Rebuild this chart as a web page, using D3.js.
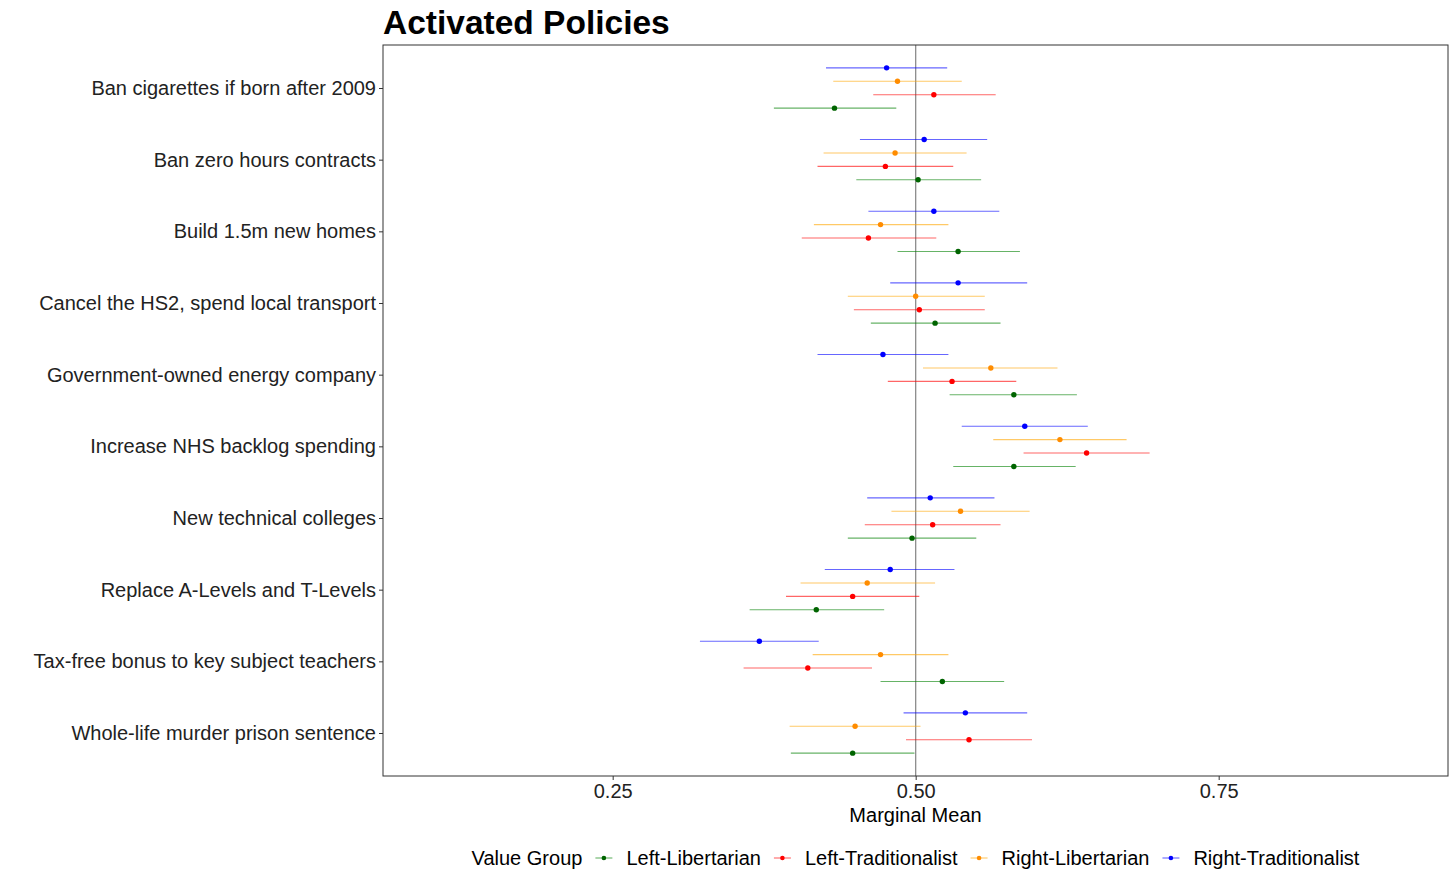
<!DOCTYPE html>
<html>
<head>
<meta charset="utf-8">
<script src="https://cdn.jsdelivr.net/npm/d3@7"></script>
<style>
  body { margin: 0; background: #fff; }
  text { font-family: "Liberation Sans", Arial, sans-serif; }
</style>
</head>
<body>
<div id="chart"></div>
<script>
// policy categories, top to bottom
const policies = [
  "Ban cigarettes if born after 2009",
  "Ban zero hours contracts",
  "Build 1.5m new homes",
  "Cancel the HS2, spend local transport",
  "Government-owned energy company",
  "Increase NHS backlog spending",
  "New technical colleges",
  "Replace A-Levels and T-Levels",
  "Tax-free bonus to key subject teachers",
  "Whole-life murder prison sentence"
];

const groups = ["Left-Libertarian", "Left-Traditionalist", "Right-Libertarian", "Right-Traditionalist"];
const lineColors = ["green", "red", "orange", "blue"];
const pointColors = ["darkgreen", "red", "darkorange", "blue"];

// Left-Libertarian
const llEst = [0.433, 0.502, 0.535, 0.516, 0.581, 0.581, 0.497, 0.418, 0.522, 0.448];
const llLo  = [0.383, 0.451, 0.485, 0.463, 0.528, 0.531, 0.444, 0.363, 0.471, 0.397];
const llHi  = [0.484, 0.554, 0.586, 0.570, 0.633, 0.632, 0.550, 0.474, 0.573, 0.499];
// Left-Traditionalist
const ltEst = [0.515, 0.475, 0.461, 0.503, 0.530, 0.641, 0.514, 0.448, 0.411, 0.544];
const ltLo  = [0.465, 0.419, 0.406, 0.449, 0.477, 0.589, 0.458, 0.393, 0.358, 0.492];
const ltHi  = [0.566, 0.531, 0.517, 0.557, 0.583, 0.693, 0.570, 0.503, 0.464, 0.596];
// Right-Libertarian
const rlEst = [0.485, 0.483, 0.471, 0.500, 0.562, 0.619, 0.537, 0.460, 0.471, 0.450];
const rlLo  = [0.432, 0.424, 0.416, 0.444, 0.506, 0.564, 0.480, 0.405, 0.415, 0.396];
const rlHi  = [0.538, 0.542, 0.527, 0.557, 0.617, 0.674, 0.594, 0.516, 0.527, 0.504];
// Right-Traditionalist
const rtEst = [0.476, 0.507, 0.515, 0.535, 0.473, 0.590, 0.512, 0.479, 0.371, 0.541];
const rtLo  = [0.426, 0.454, 0.461, 0.479, 0.419, 0.538, 0.460, 0.425, 0.322, 0.490];
const rtHi  = [0.526, 0.559, 0.569, 0.592, 0.527, 0.642, 0.565, 0.532, 0.420, 0.592];

const xTicks = [0.25, 0.50, 0.75];

const est = [llEst, ltEst, rlEst, rtEst];
const lo = [llLo, ltLo, rlLo, rtLo];
const hi = [llHi, ltHi, rlHi, rtHi];

// flatten into rows
const rows = [];
groups.forEach((g, gi) => {
  policies.forEach((p, pi) => {
    rows.push({ policy: p, group: g, gi: gi, est: est[gi][pi], lo: lo[gi][pi], hi: hi[gi][pi] });
  });
});

const width = 1456;
const height = 885;
const margin = { top: 45, right: 8, bottom: 109, left: 383 };
const fontSize = "20px";

const svg = d3.select("#chart")
  .append("svg")
  .attr("width", width)
  .attr("height", height);

const x = d3.scaleLinear()
  .domain([0.0605, 0.9392])
  .range([margin.left, width - margin.right]);

const y = d3.scalePoint()
  .domain(policies)
  .range([margin.top, height - margin.bottom])
  .padding(0.6);

const dodge = y.step() * 0.1875;
const yPos = d => y(d.policy) + (1.5 - d.gi) * dodge;

// reference line at 0.5
svg.append("line")
  .attr("x1", x(0.5)).attr("x2", x(0.5))
  .attr("y1", margin.top).attr("y2", height - margin.bottom)
  .attr("stroke", "#8c8c8c")
  .attr("stroke-width", 1.3);

// error bars
svg.append("g").selectAll("line")
  .data(rows)
  .enter().append("line")
  .attr("x1", d => x(d.lo))
  .attr("x2", d => x(d.hi))
  .attr("y1", yPos)
  .attr("y2", yPos)
  .attr("stroke", d => lineColors[d.gi])
  .attr("stroke-opacity", 0.6)
  .attr("stroke-width", 1.1);

// points
svg.append("g").selectAll("circle")
  .data(rows)
  .enter().append("circle")
  .attr("cx", d => x(d.est))
  .attr("cy", yPos)
  .attr("r", 2.7)
  .attr("fill", d => pointColors[d.gi]);

// panel border
svg.append("rect")
  .attr("x", margin.left)
  .attr("y", margin.top)
  .attr("width", width - margin.right - margin.left)
  .attr("height", height - margin.bottom - margin.top)
  .attr("fill", "none")
  .attr("stroke", "#333")
  .attr("stroke-width", 1);

// x axis
const xAxis = svg.append("g")
  .attr("transform", `translate(0,${height - margin.bottom})`)
  .call(d3.axisBottom(x).tickValues(xTicks).tickFormat(d3.format(".2f")).tickSize(4).tickPadding(4));
xAxis.select(".domain").remove();
xAxis.selectAll(".tick line").attr("stroke", "#333");
xAxis.selectAll(".tick text")
  .attr("fill", "#222")
  .style("font-size", fontSize)
  .style("font-family", "'Liberation Sans', Arial, sans-serif");

// y axis
const yAxis = svg.append("g")
  .attr("transform", `translate(${margin.left},0)`)
  .call(d3.axisLeft(y).tickSize(4).tickPadding(3));
yAxis.select(".domain").remove();
yAxis.selectAll(".tick line").attr("stroke", "#333");
yAxis.selectAll(".tick text")
  .attr("fill", "#222")
  .style("font-size", fontSize)
  .style("font-family", "'Liberation Sans', Arial, sans-serif");

// title
svg.append("text")
  .attr("x", margin.left)
  .attr("y", 34)
  .attr("font-size", "33.5px")
  .attr("font-weight", "bold")
  .attr("fill", "#000")
  .text("Activated Policies");

// x axis title
svg.append("text")
  .attr("x", (margin.left + width - margin.right) / 2)
  .attr("y", 822)
  .attr("text-anchor", "middle")
  .attr("font-size", fontSize)
  .attr("fill", "#000")
  .text("Marginal Mean");

// legend
const legend = svg.append("g").attr("transform", "translate(0,858)");
let lx = 0;
const legTitle = legend.append("text")
  .attr("x", lx).attr("y", 7)
  .attr("font-size", fontSize)
  .text("Value Group");
lx += legTitle.node().getComputedTextLength() + 13;
groups.forEach((g, gi) => {
  legend.append("line")
    .attr("x1", lx).attr("x2", lx + 17)
    .attr("y1", 0).attr("y2", 0)
    .attr("stroke", lineColors[gi])
    .attr("stroke-opacity", 0.6)
    .attr("stroke-width", 1.1);
  legend.append("circle")
    .attr("cx", lx + 8.5).attr("cy", 0)
    .attr("r", 2.3)
    .attr("fill", pointColors[gi]);
  lx += 17 + 14;
  const t = legend.append("text")
    .attr("x", lx).attr("y", 7)
    .attr("font-size", fontSize)
    .text(g);
  lx += t.node().getComputedTextLength() + 13;
});
lx -= 13;
const centerX = (margin.left + width - margin.right) / 2;
legend.attr("transform", `translate(${centerX - lx / 2},858)`);
</script>
</body>
</html>
